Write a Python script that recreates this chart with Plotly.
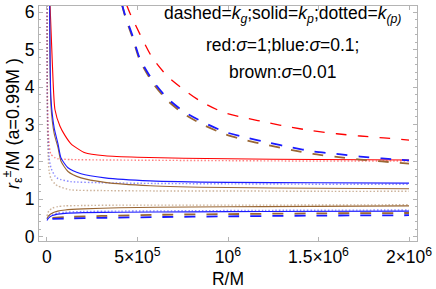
import plotly.graph_objects as go

# ---------------- data (x in units of R/M) ----------------
M6 = 1e6
# dashed = k_g
red_dash_x = [0.44, 0.459, 0.514, 0.58, 0.663, 0.751, 0.845, 0.97, 1.10, 1.23, 1.34, 1.47, 1.60, 1.73, 1.86, 2.0]
red_dash_y = [6.2, 5.97, 5.41, 4.8, 4.3, 3.95, 3.63, 3.33, 3.17, 3.04, 2.93, 2.83, 2.75, 2.69, 2.64, 2.58]
blue_dash_x = [0.415, 0.43, 0.47, 0.514, 0.586, 0.663, 0.751, 0.862, 0.983, 1.105, 1.227, 1.354, 1.47, 1.60, 1.73, 1.85, 2.0]
blue_dash_y = [6.2, 5.95, 5.41, 4.75, 4.16, 3.71, 3.36, 3.06, 2.80, 2.64, 2.51, 2.38, 2.28, 2.21, 2.14, 2.09, 2.04]
brown_dash_y = [6.2, 5.92, 5.36, 4.7, 4.1, 3.65, 3.30, 2.99, 2.74, 2.57, 2.44, 2.31, 2.21, 2.13, 2.06, 2.01, 1.95]
low_dash_x = [0.03, 0.1, 0.3, 0.6, 1.0, 1.5, 2.0]
blue_low_dash_y = [0.47, 0.48, 0.5, 0.52, 0.54, 0.56, 0.57]
brown_low_dash_y = [0.5, 0.52, 0.55, 0.58, 0.6, 0.62, 0.63]

# solid = k_p (upper branch)
red_solid_x = [0.017, 0.03, 0.044, 0.072, 0.1, 0.133, 0.21, 0.32, 0.5, 1.0, 1.5, 2.0]
red_solid_y = [6.2, 4.6, 3.4, 2.95, 2.7, 2.48, 2.24, 2.16, 2.12, 2.08, 2.06, 2.05]
blue_solid_x = [0.015, 0.022, 0.04, 0.061, 0.077, 0.116, 0.188, 0.32, 0.57, 1.0, 1.5, 2.0]
blue_solid_y = [6.2, 3.7, 2.9, 2.48, 2.11, 1.84, 1.68, 1.57, 1.49, 1.45, 1.44, 1.43]
brown_solid_y = [6.2, 3.5, 2.75, 2.38, 2.02, 1.74, 1.57, 1.45, 1.36, 1.31, 1.29, 1.28]

# dotted = k_(p) (upper branch)
dot_up_x = [0.0005, 0.002, 0.006, 0.012, 0.022, 0.044, 0.061, 0.13, 0.3, 0.6, 1.0, 1.5, 2.0]
red_dot_y = [6.2, 4.0, 2.9, 2.45, 2.2, 2.11, 2.08, 2.06, 2.05, 2.04, 2.03, 2.02, 2.02]
blue_dot_y = [6.2, 3.6, 2.6, 2.1, 1.84, 1.62, 1.55, 1.47, 1.44, 1.42, 1.41, 1.40, 1.40]
brown_dot_y = [6.2, 3.2, 2.2, 1.75, 1.55, 1.41, 1.35, 1.25, 1.23, 1.22, 1.22, 1.21, 1.21]

# lower branches (solid and dotted)
low_x = [0.0, 0.01, 0.03, 0.06, 0.1, 0.2, 0.4, 0.8, 1.2, 2.0]
blue_low_solid_y = [0.43, 0.5, 0.56, 0.6, 0.62, 0.64, 0.65, 0.66, 0.67, 0.68]
blue_low_dot_y = [0.47, 0.55, 0.6, 0.63, 0.65, 0.67, 0.68, 0.69, 0.7, 0.71]
brown_low_solid_y = [0.48, 0.56, 0.63, 0.68, 0.71, 0.74, 0.77, 0.79, 0.8, 0.82]
brown_low_dot_y = [0.55, 0.68, 0.76, 0.8, 0.82, 0.83, 0.84, 0.84, 0.84, 0.85]

x_tickvals = [0, 5e5, 1e6, 1.5e6, 2e6]
x_ticktext = ["0", "5×10<sup>5</sup>", "10<sup>6</sup>", "1.5×10<sup>6</sup>", "2×10<sup>6</sup>"]
y_tickvals = [0, 1, 2, 3, 4, 5, 6]

RED = "#ff0000"
BLUE = "#1a1aff"
BROWN = "#996633"

fig = go.Figure()


def add(xs, ys, color, kind, width=1.2, opacity=1.0):
    dash = {"solid": "solid", "dash": "11px,11px", "dot": "1.5px,2px"}[kind]
    fig.add_trace(go.Scatter(
        x=[v * M6 for v in xs], y=ys, mode="lines",
        line=dict(color=color, width=width, dash=dash, shape="spline", smoothing=0.6),
        opacity=opacity, hoverinfo="skip", showlegend=False))


# dotted
add(dot_up_x, red_dot_y, RED, "dot", 1.4, 0.5)
add(dot_up_x, blue_dot_y, BLUE, "dot", 1.4, 0.5)
add(dot_up_x, brown_dot_y, BROWN, "dot", 1.4, 0.5)
add(low_x, blue_low_dot_y, BLUE, "dot", 1.4, 0.5)
add(low_x, brown_low_dot_y, BROWN, "dot", 1.4, 0.5)
# solid
add(red_solid_x, red_solid_y, RED, "solid", 1.1)
add(blue_solid_x, brown_solid_y, BROWN, "solid", 1.1)
add(blue_solid_x, blue_solid_y, BLUE, "solid", 1.1)
add(low_x, brown_low_solid_y, BROWN, "solid", 1.1)
add(low_x, blue_low_solid_y, BLUE, "solid", 1.1)
# dashed
add(red_dash_x, red_dash_y, RED, "dash", 1.3)
add(blue_dash_x, brown_dash_y, BROWN, "dash", 1.8)
add(blue_dash_x, blue_dash_y, BLUE, "dash", 1.8)
add(low_dash_x, brown_low_dash_y, BROWN, "dash", 1.8)
add(low_dash_x, blue_low_dash_y, BLUE, "dash", 1.8)

FONT = "Liberation Sans, Arial, sans-serif"
frame = "#b4b4b4"
TICKSZ = 17.5
TXTSZ = 17.5

fig.update_layout(
    width=436, height=289,
    margin=dict(l=39, r=19, t=6, b=48, autoexpand=False),
    paper_bgcolor="white", plot_bgcolor="white",
    font=dict(family=FONT, size=TXTSZ, color="black"),
    hovermode=False,
    xaxis=dict(
        range=[-0.044e6, 2.044e6], tickvals=x_tickvals, ticktext=x_ticktext,
        showgrid=False, zeroline=False, showline=True, linecolor=frame, linewidth=1,
        mirror="allticks", ticks="inside", ticklen=4, tickcolor=frame,
        tickfont=dict(size=TICKSZ, family=FONT, color="black"),
        title=dict(text="R/M", font=dict(size=TXTSZ, family=FONT), standoff=6),
        automargin=False,
    ),
    yaxis=dict(
        range=[-0.12, 6.17], tickvals=y_tickvals,
        showgrid=False, zeroline=False, showline=True, linecolor=frame, linewidth=1,
        mirror="allticks", ticks="inside", ticklen=4, tickcolor=frame,
        minor=dict(dtick=0.2, ticks="inside", ticklen=2, tickcolor=frame),
        tickfont=dict(size=TICKSZ, family=FONT, color="black"),
        title=dict(text="<i>r</i><sub>ε</sub><sup>±</sup>/M (a=0.99M )",
                   font=dict(size=18, family=FONT), standoff=3),
        automargin=False,
    ),
    annotations=[
        dict(xref="paper", yref="paper", x=(282 - 39) / 378, y=(241 - 14) / 235,
             text="dashed=<i>k<sub>g</sub></i>;solid=<i>k<sub>p</sub></i>;dotted=<i>k<sub>(p)</sub></i>",
             showarrow=False, xanchor="center", yanchor="middle",
             font=dict(size=TXTSZ, family=FONT, color="black")),
        dict(xref="paper", yref="paper", x=(282 - 39) / 378, y=(241 - 45) / 235,
             text="red:<i>σ</i>=1;blue:<i>σ</i>=0.1;",
             showarrow=False, xanchor="center", yanchor="middle",
             font=dict(size=TXTSZ, family=FONT, color="black")),
        dict(xref="paper", yref="paper", x=(282 - 39) / 378, y=(241 - 72) / 235,
             text="brown:<i>σ</i>=0.01",
             showarrow=False, xanchor="center", yanchor="middle",
             font=dict(size=TXTSZ, family=FONT, color="black")),
    ],
)

fig.write_html("out.html",
               config={"displayModeBar": False, "staticPlot": True},
               post_script="document.body.style.margin='0';document.body.style.overflow='hidden';")
